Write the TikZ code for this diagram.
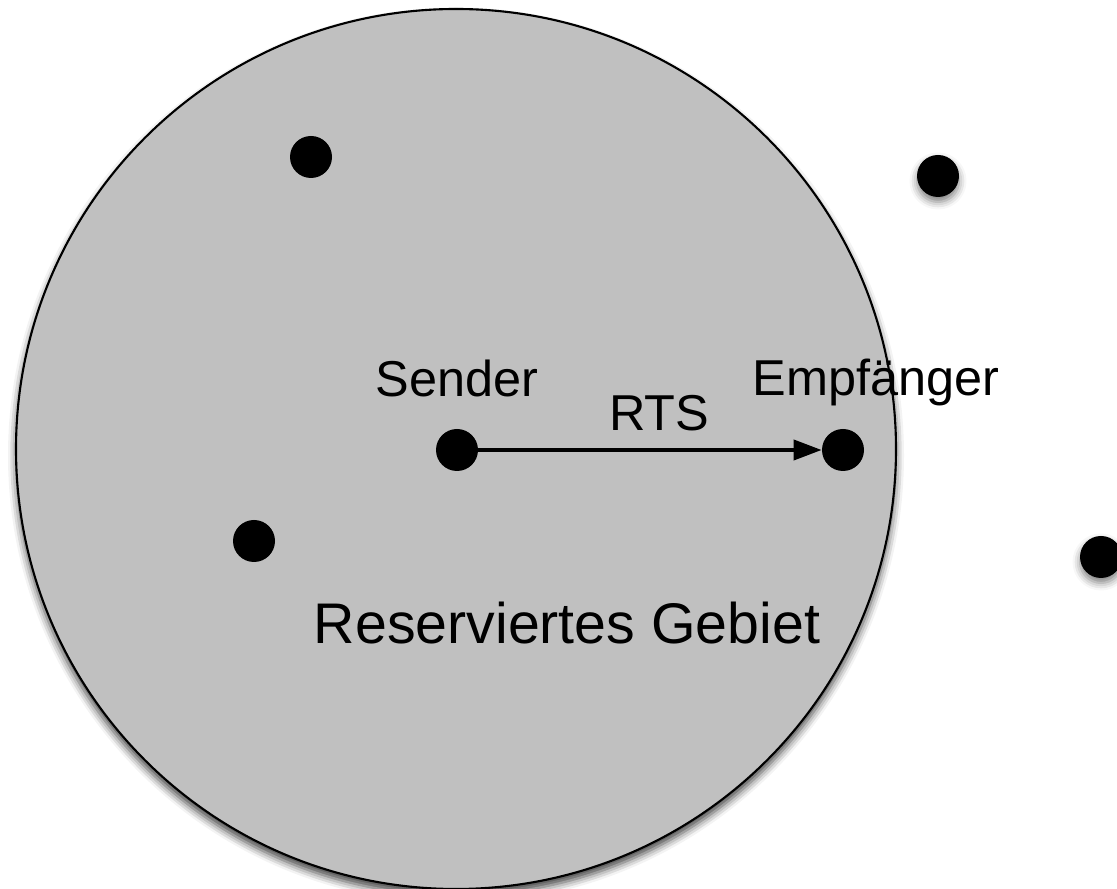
\documentclass[tikz,border=0pt]{standalone}
\usepackage{fontspec}
\setmainfont{Liberation Sans}
\usetikzlibrary{arrows.meta,positioning,shadows.blur}
\definecolor{areagray}{RGB}{192,192,192}

\begin{document}
\begin{tikzpicture}[
  station/.style={circle, fill=black, inner sep=0pt, minimum size=0.84cm},
  shadowed/.style={blur shadow={shadow xshift=0pt, shadow yshift=-0.1cm, shadow blur radius=0.15cm, shadow opacity=50}},
  lbl/.style={inner sep=0pt, text depth=0pt, font=\fontsize{28.7}{34}\selectfont}]
  \useasboundingbox (0,0) rectangle (22.34,17.78);
  \node (area) [circle, draw, line width=1.2pt, fill=areagray, minimum size=17.6cm,
    blur shadow={shadow xshift=0pt, shadow yshift=-0.13cm, shadow blur radius=0.16cm, shadow opacity=75}] at (9.12,8.8) {};
  \node (n1) [station] at (6.22,14.64) {};
  \node (n2) [station, shadowed] at (18.76,14.26) {};
  \node (n3) [station] at (5.08,6.96) {};
  \node (n4) [station, shadowed] at (22.02,6.64) {};
  \node (sender) [station] at (9.14,8.78) {};
  \node (empf) [station] at (16.86,8.78) {};
  \node (senderlbl) [lbl, above=0.64 of sender] {Sender};
  \node (empflbl) [lbl, above=0.66 of empf, xshift=0.66cm] {Empfänger};
  \draw[-{Triangle[length=0.56cm,width=0.4cm]}, line width=2.2pt] (sender) to node [lbl, above=0.36, xshift=0.18cm] {RTS} (empf);
  \node (gebiet) [lbl, font=\fontsize{32.6}{38}\selectfont, anchor=base] at (11.34,4.9) {Reserviertes Gebiet};
\end{tikzpicture}
\end{document}
